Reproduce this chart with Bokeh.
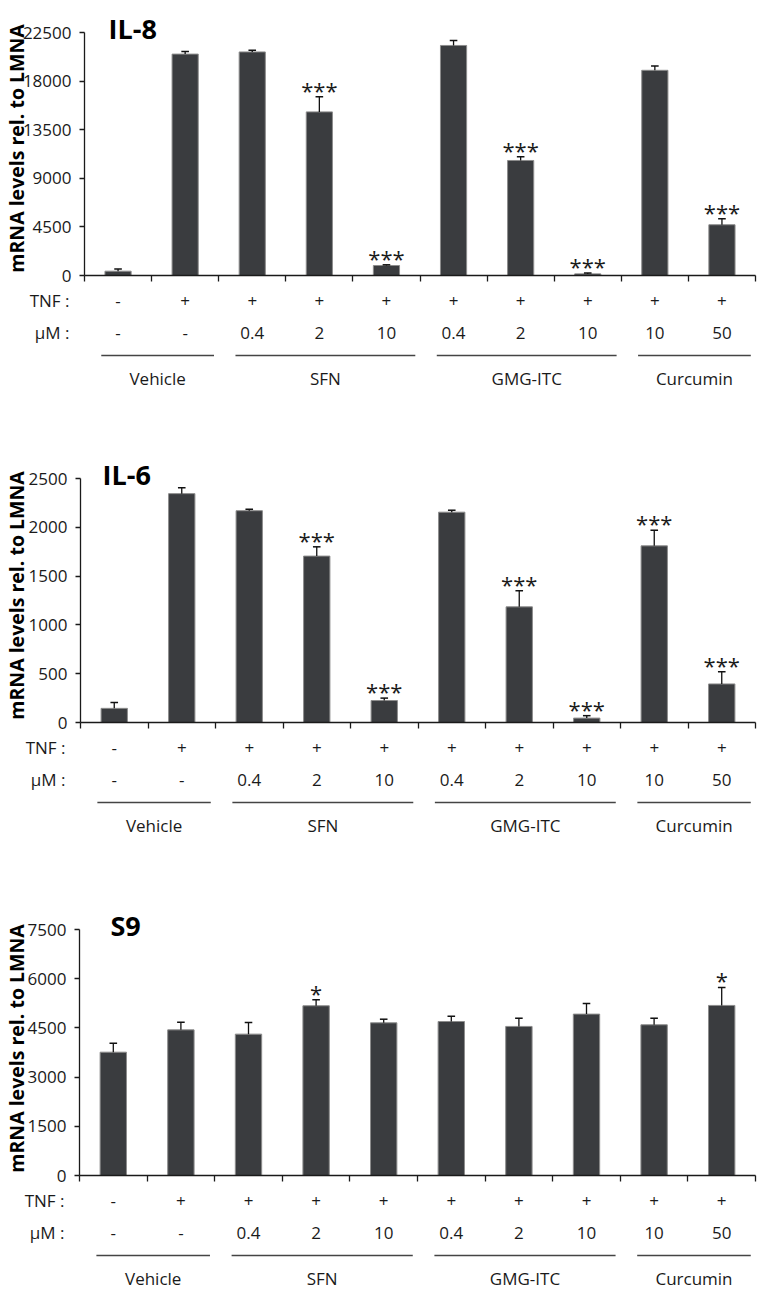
import math
from bokeh.plotting import figure
from bokeh.models import FixedTicker, Range1d
from bokeh.layouts import column
from bokeh.core.properties import value
from bokeh.embed import file_html
from bokeh.resources import INLINE

# ---------------- data ----------------
tnf_labels = ["-", "+", "+", "+", "+", "+", "+", "+", "+", "+"]
dose_labels = ["-", "-", "0.4", "2", "10", "0.4", "2", "10", "10", "50"]
row_names = ["TNF :", "\u03bcM :"]
group_names = ["Vehicle", "SFN", "GMG-ITC", "Curcumin"]
group_first = [0, 2, 5, 8]
group_last = [1, 4, 7, 9]
y_title = "mRNA levels rel. to LMNA"

il8_mean = [400, 20500, 20700, 15150, 925, 21300, 10650, 150, 19000, 4700]
il8_err = [200, 250, 150, 1400, 65, 450, 350, 80, 400, 550]
il8_sig = ["", "", "", "***", "***", "", "***", "***", "", "***"]
il8_ticks = [0, 4500, 9000, 13500, 18000, 22500]

il6_mean = [145, 2345, 2170, 1705, 225, 2155, 1185, 45, 1810, 395]
il6_err = [60, 60, 15, 95, 25, 20, 165, 25, 160, 125]
il6_sig = ["", "", "", "***", "***", "", "***", "***", "***", "***"]
il6_ticks = [0, 500, 1000, 1500, 2000, 2500]

s9_mean = [3760, 4440, 4310, 5175, 4655, 4695, 4545, 4920, 4595, 5185]
s9_err = [275, 230, 355, 185, 110, 160, 250, 325, 200, 550]
s9_sig = ["", "", "", "*", "", "", "", "", "", "*"]
s9_ticks = [0, 1500, 3000, 4500, 6000, 7500]

# ---------------- layout (page pixels) ----------------
FONT = "Open Sans"
TXT = "#1a1a1a"
BAR = "#3a3c3f"


def make_panel(title, mean, err, sig, ticks, fig_top, fig_bottom, axis_x, top_px, zero_px, title_dx):
    W = 760
    H = fig_bottom - fig_top
    right_px = 763
    n = len(mean)
    cat_w = (right_px - axis_x) / n
    upp = ticks[-1] / (zero_px - top_px)

    def px(v):
        return v / cat_w

    def py(v):
        return v * upp

    x_range = Range1d((8 - axis_x) / cat_w, (8 + W - axis_x) / cat_w)
    y_range = Range1d(-(fig_bottom - zero_px) * upp, (zero_px - fig_top) * upp)

    p = figure(width=W, height=H, x_range=x_range, y_range=y_range,
               toolbar_location=None, output_backend="svg", min_border=0,
               outline_line_color=None, background_fill_color="white",
               border_fill_color="white")
    p.grid.visible = False

    # axes
    p.xaxis.fixed_location = 0
    p.xaxis.bounds = (0, n)
    p.xaxis.ticker = FixedTicker(ticks=list(range(n + 1)))
    p.xaxis.major_label_text_color = None
    p.xaxis.major_tick_out = 6
    p.xaxis.major_tick_in = 0
    p.xaxis.minor_tick_line_color = None
    p.xaxis.axis_line_color = TXT
    p.xaxis.major_tick_line_color = TXT
    p.xaxis.axis_line_width = 1.3
    p.xaxis.major_tick_line_width = 1.3

    p.yaxis.fixed_location = 0
    p.yaxis.bounds = (0, ticks[-1])
    p.yaxis.ticker = FixedTicker(ticks=ticks)
    p.yaxis.major_tick_out = 5
    p.yaxis.major_tick_in = 0
    p.yaxis.minor_tick_line_color = None
    p.yaxis.axis_line_color = TXT
    p.yaxis.major_tick_line_color = TXT
    p.yaxis.axis_line_width = 1.3
    p.yaxis.major_tick_line_width = 1.3
    p.yaxis.major_label_standoff = 8
    p.yaxis.major_label_text_font = FONT
    p.yaxis.major_label_text_font_size = "17px"
    p.yaxis.major_label_text_color = TXT

    centers = [i + 0.5 for i in range(n)]
    tops = [m + e for m, e in zip(mean, err)]

    p.vbar(x=centers, top=mean, bottom=0, width=0.39, fill_color=BAR,
           line_color="#8c8c8c", line_width=1)
    p.segment(x0=centers, y0=mean, x1=centers, y1=tops, line_color="#111111", line_width=1.3)
    cap = px(3.8)
    p.segment(x0=[c - cap for c in centers], y0=tops, x1=[c + cap for c in centers], y1=tops,
              line_color="#111111", line_width=1.5)

    sx = [c for c, s in zip(centers, sig) if s]
    sy = [t + py(7) for t, s in zip(tops, sig) if s]
    st = [s for s in sig if s]
    p.text(x=sx, y=sy, text=st, text_font=value(FONT), text_font_size="22px",
           text_align="center", text_baseline="alphabetic", text_color=TXT)

    # title
    p.text(x=[px(title_dx)], y=[ticks[-1] + py(4)], text=[title], text_font=value(FONT),
           text_font_size="27px", text_font_style="bold", text_align="left",
           text_baseline="alphabetic", text_color="black")

    # y axis title
    p.text(x=[-px(axis_x - 23.5)], y=[py(127)], text=[y_title], angle=math.pi / 2,
           text_font=value(FONT), text_font_size="19.5px", text_font_style="bold",
           text_align="center", text_baseline="alphabetic", text_color="black")

    # rows under the axis
    p.text(x=centers, y=[-py(25)] * n, text=tnf_labels, text_font=value(FONT),
           text_font_size="17px", text_align="center", text_baseline="middle", text_color=TXT)
    p.text(x=centers, y=[-py(57)] * n, text=dose_labels, text_font=value(FONT),
           text_font_size="17px", text_align="center", text_baseline="middle", text_color=TXT)
    p.text(x=[-px(15)] * 2, y=[-py(25), -py(57)], text=row_names, text_font=value(FONT),
           text_font_size="17px", text_align="right", text_baseline="middle", text_color=TXT)

    gx0 = [f + 0.25 for f in group_first]
    gx1 = [l + 0.93 for l in group_last]
    p.segment(x0=gx0, y0=[-py(80)] * len(gx0), x1=gx1, y1=[-py(80)] * len(gx0),
              line_color="#444444", line_width=1.5)
    p.text(x=[(a + b) / 2 for a, b in zip(gx0, gx1)], y=[-py(103)] * len(gx0), text=group_names,
           text_font=value(FONT), text_font_size="17px", text_align="center",
           text_baseline="middle", text_color=TXT)
    return p


p1 = make_panel("IL-8", il8_mean, il8_err, il8_sig, il8_ticks,
                fig_top=8, fig_bottom=425, axis_x=92, top_px=40, zero_px=283, title_dx=24)
p2 = make_panel("IL-6", il6_mean, il6_err, il6_sig, il6_ticks,
                fig_top=425, fig_bottom=875, axis_x=88, top_px=486, zero_px=730, title_dx=22)
p3 = make_panel("S9", s9_mean, s9_err, s9_sig, s9_ticks,
                fig_top=875, fig_bottom=1299, axis_x=87, top_px=937, zero_px=1183, title_dx=31)

p = column(p1, p2, p3, spacing=0)
open("out.html", "w").write(file_html(p, INLINE))
